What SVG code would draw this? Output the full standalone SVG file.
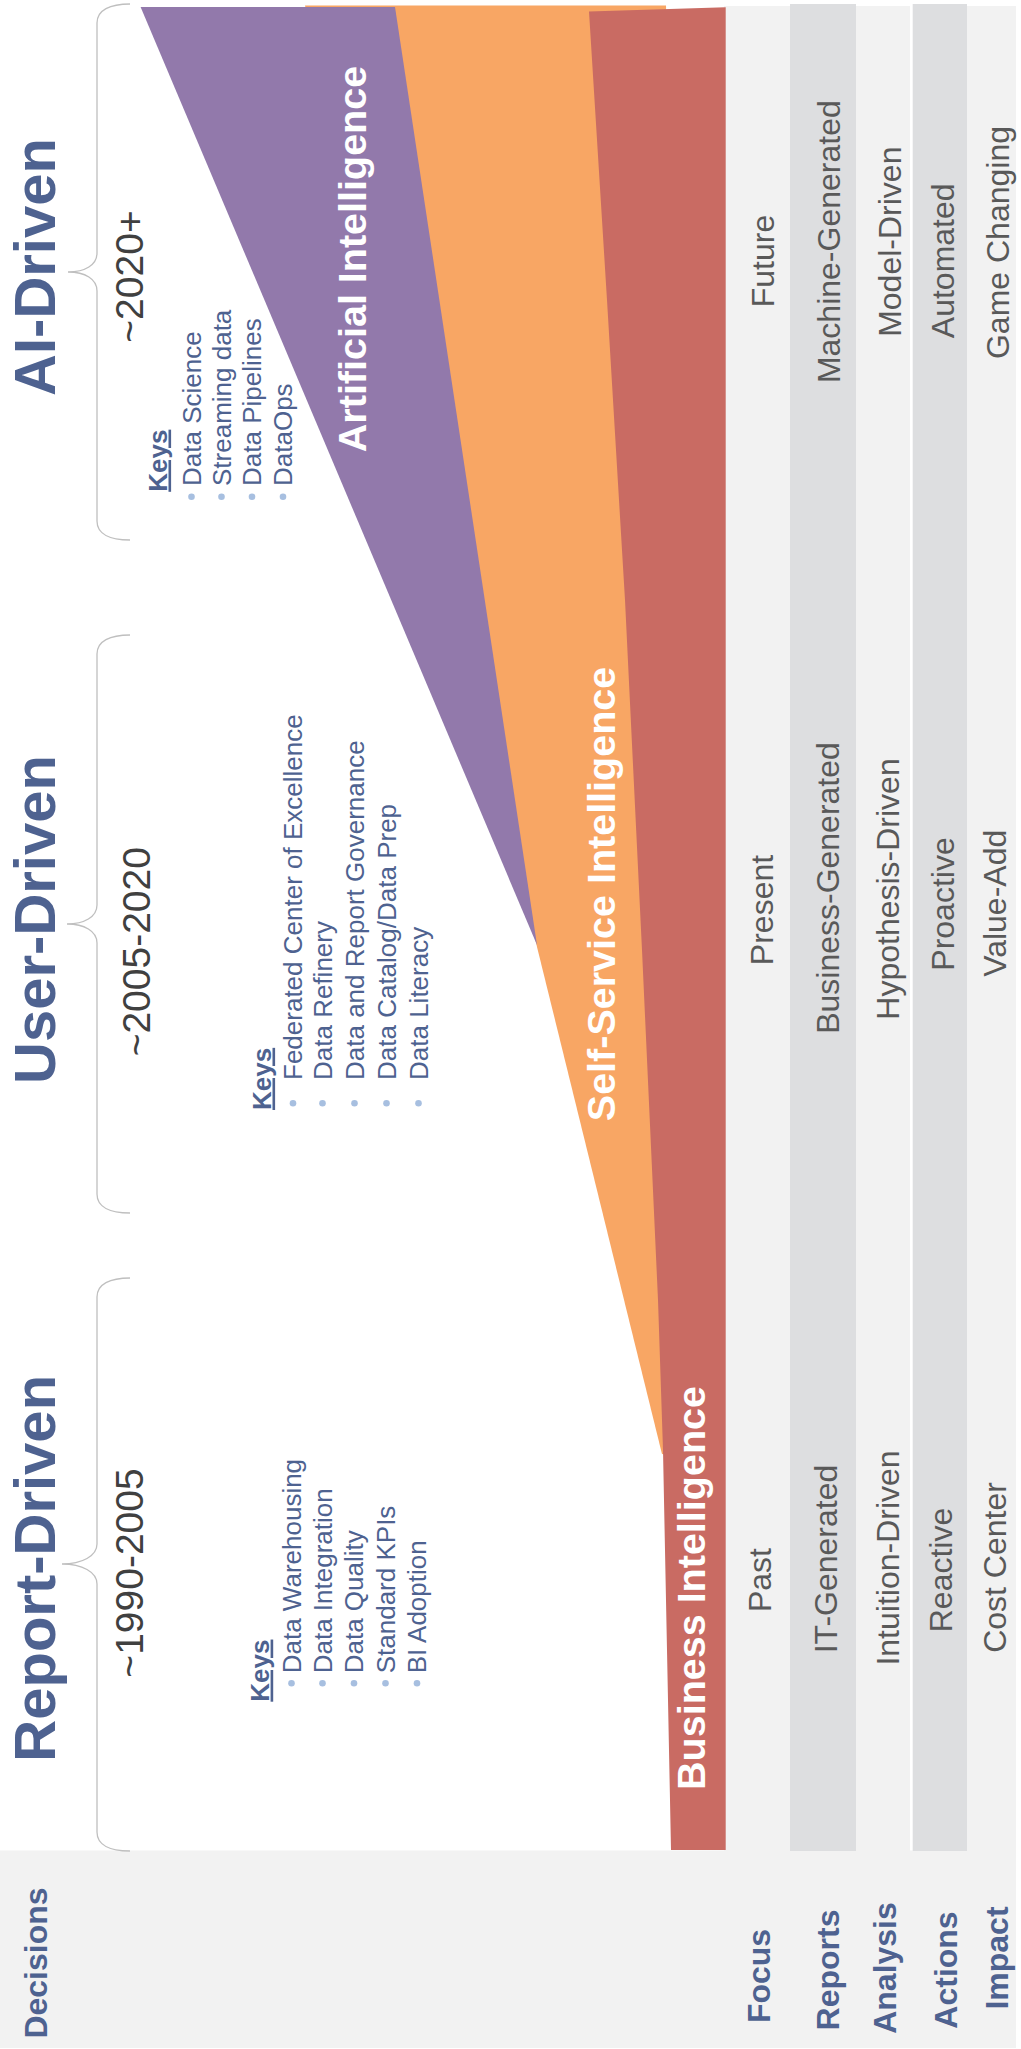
<svg xmlns="http://www.w3.org/2000/svg" width="1021" height="2049" viewBox="0 0 1021 2049">
<style>
text{font-family:"Liberation Sans",Arial,Helvetica,sans-serif}
.title{font-size:58px;font-weight:bold;fill:#4e6290}
.date{font-size:39px;fill:#404040}
.keyh{font-size:26px;font-weight:bold;fill:#4e6290;text-decoration:underline}
.key{font-size:26px;fill:#4e6290}
.band{font-size:39.5px;font-weight:bold;fill:#ffffff}
.cell{font-size:32px;fill:#595959}
.row{font-size:32px;font-weight:bold;fill:#4e6290}
.brace{fill:none;stroke:#bfbfbf;stroke-width:1.3}
.bullet{fill:#a7bfe0}
.light{fill:#f2f2f2}
.dark{fill:#dddee0}
</style>
<rect x="0" y="0" width="1021" height="2049" fill="#ffffff"/>
<g id="table">
  <rect class="light" x="0" y="1850.5" width="1016" height="197.5"/>
  <rect class="light" x="724" y="6" width="66" height="1846"/>
  <rect class="dark" x="790" y="4" width="66" height="1847"/>
  <rect class="light" x="856" y="6" width="54" height="1846"/>
  <rect class="dark" x="912.7" y="4" width="54.3" height="1847"/>
  <rect class="light" x="967" y="6" width="49" height="1846"/>
</g>
<g id="bands">
  <polygon id="band-ssi" fill="#f8a664" points="305,5.5 666,5.5 700,1460 662,1454"/>
  <path id="band-bi" fill="#c96b63" d="M589,11.5 L725.7,7.3 L725.7,1850 L671,1850 L667,1650 L663,1450 L658,1300 L642,950 L625,600 L607,300 Z"/>
  <polygon id="band-ai" fill="#9279ab" points="140.6,7 395,7 537,945"/>
  <text class="band" text-anchor="middle" transform="translate(366,259) rotate(-90)">Artificial Intelligence</text>
  <text class="band" text-anchor="middle" transform="translate(615,894) rotate(-90)">Self-Service Intelligence</text>
  <text class="band" text-anchor="middle" transform="translate(704.8,1588) rotate(-90)">Business Intelligence</text>
</g>
<g id="braces">
  <path class="brace" d="M130,4 C110,4 97,10 97,23 L97,253 C97,265 85,272 68,272 C85,272 97,279 97,291 L97,521 C97,534 110,540 130,540"/>
  <path class="brace" d="M130,635 C110,635 97,641 97,654 L97,905 C97,917 84,924 67,924 C84,924 97,931 97,943 L97,1194 C97,1207 110,1213 130,1213"/>
  <path class="brace" d="M130,1278 C110,1278 97,1284 97,1297 L97,1544 C97,1556 82,1564 62,1564 C82,1564 97,1572 97,1584 L97,1832 C97,1845 110,1851 130,1851"/>
</g>
<g id="era-ai">
  <text class="title" text-anchor="middle" transform="translate(55,267) rotate(-90)">AI-Driven</text>
  <text class="date" text-anchor="middle" transform="translate(143,276.5) rotate(-90)">~2020+</text>
  <text class="keyh" transform="translate(166.5,491.8) rotate(-90)">Keys</text>
  <text class="key" transform="translate(200.5,486) rotate(-90)">Data Science</text>
  <text class="key" transform="translate(230.5,486) rotate(-90)">Streaming data</text>
  <text class="key" transform="translate(261,486) rotate(-90)">Data Pipelines</text>
  <text class="key" transform="translate(292,486) rotate(-90)">DataOps</text>
  <circle class="bullet" cx="191.5" cy="496.7" r="3.3"/>
  <circle class="bullet" cx="221.5" cy="496.7" r="3.3"/>
  <circle class="bullet" cx="252" cy="496.7" r="3.3"/>
  <circle class="bullet" cx="283" cy="496.7" r="3.3"/>
</g>
<g id="era-user">
  <text class="title" text-anchor="middle" transform="translate(55,919.5) rotate(-90)">User-Driven</text>
  <text class="date" text-anchor="middle" transform="translate(149.5,951.7) rotate(-90)">~2005-2020</text>
  <text class="keyh" transform="translate(270.5,1110) rotate(-90)">Keys</text>
  <text class="key" transform="translate(302,1080) rotate(-90)">Federated Center of Excellence</text>
  <text class="key" transform="translate(331.5,1080) rotate(-90)">Data Refinery</text>
  <text class="key" transform="translate(363.5,1080) rotate(-90)">Data and Report Governance</text>
  <text class="key" transform="translate(395.5,1080) rotate(-90)">Data Catalog/Data Prep</text>
  <text class="key" transform="translate(427.5,1080) rotate(-90)">Data Literacy</text>
  <circle class="bullet" cx="293" cy="1103.3" r="3.3"/>
  <circle class="bullet" cx="322.5" cy="1103.3" r="3.3"/>
  <circle class="bullet" cx="354.5" cy="1103.3" r="3.3"/>
  <circle class="bullet" cx="386.5" cy="1103.3" r="3.3"/>
  <circle class="bullet" cx="418.5" cy="1103.3" r="3.3"/>
</g>
<g id="era-report">
  <text class="title" text-anchor="middle" transform="translate(55,1568.3) rotate(-90)">Report-Driven</text>
  <text class="date" text-anchor="middle" transform="translate(143,1573) rotate(-90)">~1990-2005</text>
  <text class="keyh" transform="translate(268.6,1701.7) rotate(-90)">Keys</text>
  <text class="key" transform="translate(300.5,1673.3) rotate(-90)">Data Warehousing</text>
  <text class="key" transform="translate(331.5,1673.3) rotate(-90)">Data Integration</text>
  <text class="key" transform="translate(363,1673.3) rotate(-90)">Data Quality</text>
  <text class="key" transform="translate(394.5,1673.3) rotate(-90)">Standard KPIs</text>
  <text class="key" transform="translate(426,1673.3) rotate(-90)">BI Adoption</text>
  <circle class="bullet" cx="291.5" cy="1683.3" r="3.3"/>
  <circle class="bullet" cx="322.5" cy="1683.3" r="3.3"/>
  <circle class="bullet" cx="354" cy="1683.3" r="3.3"/>
  <circle class="bullet" cx="385.5" cy="1683.3" r="3.3"/>
  <circle class="bullet" cx="417" cy="1683.3" r="3.3"/>
</g>
<g id="cells">
  <text class="cell" text-anchor="middle" transform="translate(774,261) rotate(-90)">Future</text>
  <text class="cell" text-anchor="middle" transform="translate(773,910) rotate(-90)">Present</text>
  <text class="cell" text-anchor="middle" transform="translate(771,1580) rotate(-90)">Past</text>
  <text class="cell" text-anchor="middle" transform="translate(840,241.7) rotate(-90)">Machine-Generated</text>
  <text class="cell" text-anchor="middle" transform="translate(839,888) rotate(-90)">Business-Generated</text>
  <text class="cell" text-anchor="middle" transform="translate(837,1559) rotate(-90)">IT-Generated</text>
  <text class="cell" text-anchor="middle" transform="translate(901,241.7) rotate(-90)">Model-Driven</text>
  <text class="cell" text-anchor="middle" transform="translate(899,889) rotate(-90)">Hypothesis-Driven</text>
  <text class="cell" text-anchor="middle" transform="translate(899,1558) rotate(-90)">Intuition-Driven</text>
  <text class="cell" text-anchor="middle" transform="translate(954,260.8) rotate(-90)">Automated</text>
  <text class="cell" text-anchor="middle" transform="translate(954,904) rotate(-90)">Proactive</text>
  <text class="cell" text-anchor="middle" transform="translate(952,1570) rotate(-90)">Reactive</text>
  <text class="cell" text-anchor="middle" transform="translate(1009,242.5) rotate(-90)">Game Changing</text>
  <text class="cell" text-anchor="middle" transform="translate(1006,903.3) rotate(-90)">Value-Add</text>
  <text class="cell" text-anchor="middle" transform="translate(1006,1567.5) rotate(-90)">Cost Center</text>
</g>
<g id="row-labels">
  <text class="row" text-anchor="middle" transform="translate(46.5,1963) rotate(-90)">Decisions</text>
  <text class="row" text-anchor="middle" transform="translate(769.5,1976) rotate(-90)">Focus</text>
  <text class="row" text-anchor="middle" transform="translate(839,1970) rotate(-90)">Reports</text>
  <text class="row" text-anchor="middle" transform="translate(896,1968) rotate(-90)">Analysis</text>
  <text class="row" text-anchor="middle" transform="translate(956.5,1970) rotate(-90)">Actions</text>
  <text class="row" text-anchor="middle" transform="translate(1008,1958) rotate(-90)">Impact</text>
</g>
</svg>
